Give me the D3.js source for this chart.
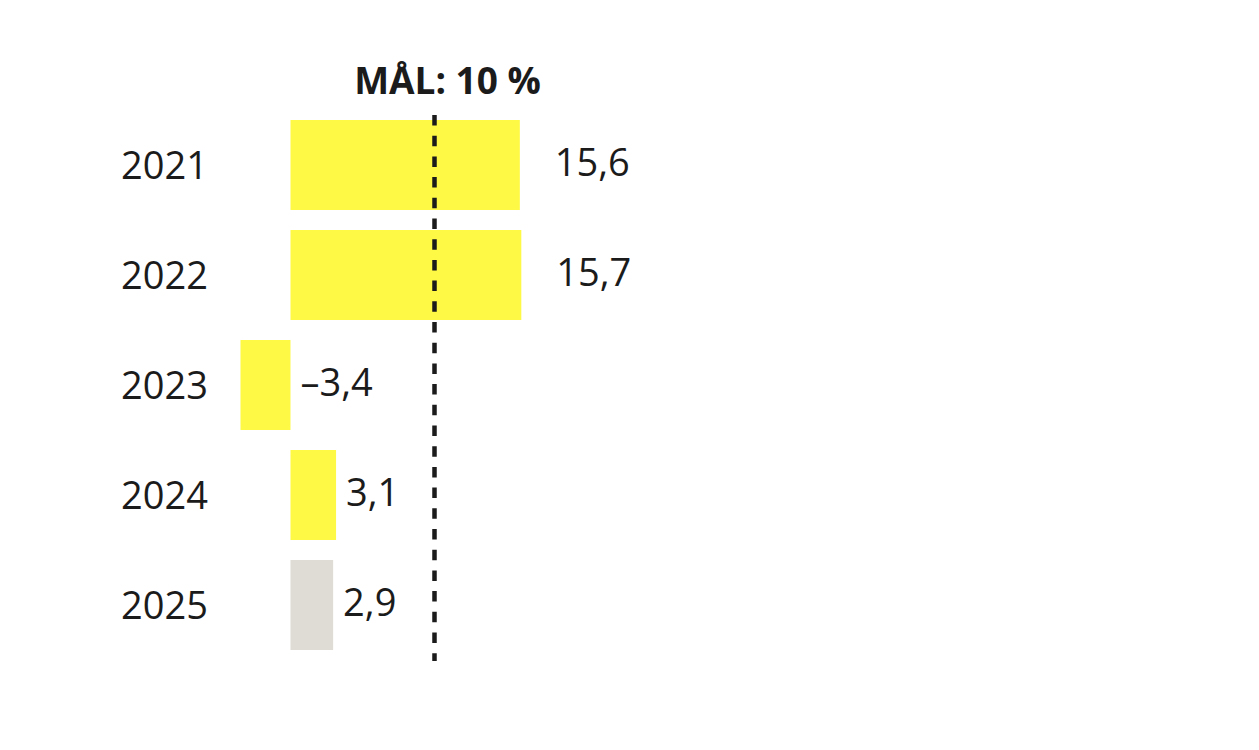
<!DOCTYPE html>
<html>
<head>
<meta charset="utf-8">
<script src="https://cdn.jsdelivr.net/npm/d3@7"></script>
<style>
    body { margin: 0; background: #fff; }
    text { font-family: "Open Sans", "Liberation Sans", Arial, sans-serif; fill: #1b1b1b; }
</style>
</head>
<body>
<div id="chart"></div>
<script>
// data
const years = ['2021', '2022', '2023', '2024', '2025'];
const values = [15.6, 15.7, -3.4, 3.1, 2.9];
const labels = ['15,6', '15,7', '\u20133,4', '3,1', '2,9'];
const forecast = [false, false, false, false, true];
const target = 10;
const targetLabel = 'MÅL: 10 %';

const width = 1259, height = 750;

const svg = d3.select('#chart')
    .append('svg')
    .attr('width', width)
    .attr('height', height);

// value scale: about 14.7 px per percent, zero at x=290.5
const x = d3.scaleLinear()
    .domain([-3.4, 15.7])
    .range([240.5, 521.3]);

const y = d3.scaleBand()
    .domain(years)
    .range([120, 650])
    .paddingInner(20 / 110)
    .paddingOuter(0);

const rows = years.map((yr, i) => ({
    year: yr, value: values[i], label: labels[i], forecast: forecast[i]
}));

// bars
svg.selectAll('rect.bar')
    .data(rows)
    .enter()
    .append('rect')
    .attr('class', 'bar')
    .attr('x', d => x(Math.min(0, d.value)))
    .attr('width', d => Math.abs(x(d.value) - x(0)))
    .attr('y', d => y(d.year))
    .attr('height', y.bandwidth())
    .attr('fill', d => d.forecast ? '#dfdcd5' : '#fdf944');

// year labels
svg.selectAll('text.year')
    .data(rows)
    .enter()
    .append('text')
    .attr('class', 'year')
    .attr('x', 208)
    .attr('y', d => y(d.year) + y.bandwidth() / 2)
    .attr('dy', '0.36em')
    .attr('text-anchor', 'end')
    .style('font-size', '38px')
    .text(d => d.year);

// value labels, pushed past the target line for the long bars
svg.selectAll('text.value')
    .data(rows)
    .enter()
    .append('text')
    .attr('class', 'value')
    .attr('x', d => Math.max(x(d.value), x(0)) + (d.value > target ? 35 : 10))
    .attr('y', d => y(d.year) + y.bandwidth() / 2)
    .attr('dy', '0.3em')
    .style('font-size', '38px')
    .text(d => d.label);

// target line
svg.append('line')
    .attr('x1', x(target) - 3)
    .attr('x2', x(target) - 3)
    .attr('y1', 115)
    .attr('y2', 661)
    .attr('stroke', '#1b1b1b')
    .attr('stroke-width', 4.5)
    .attr('stroke-dasharray', '10.5,10.2');

svg.append('text')
    .attr('x', x(target) + 10)
    .attr('y', 94)
    .attr('text-anchor', 'middle')
    .style('font-size', '37px')
    .style('font-weight', 'bold')
    .text(targetLabel);
</script>
</body>
</html>
